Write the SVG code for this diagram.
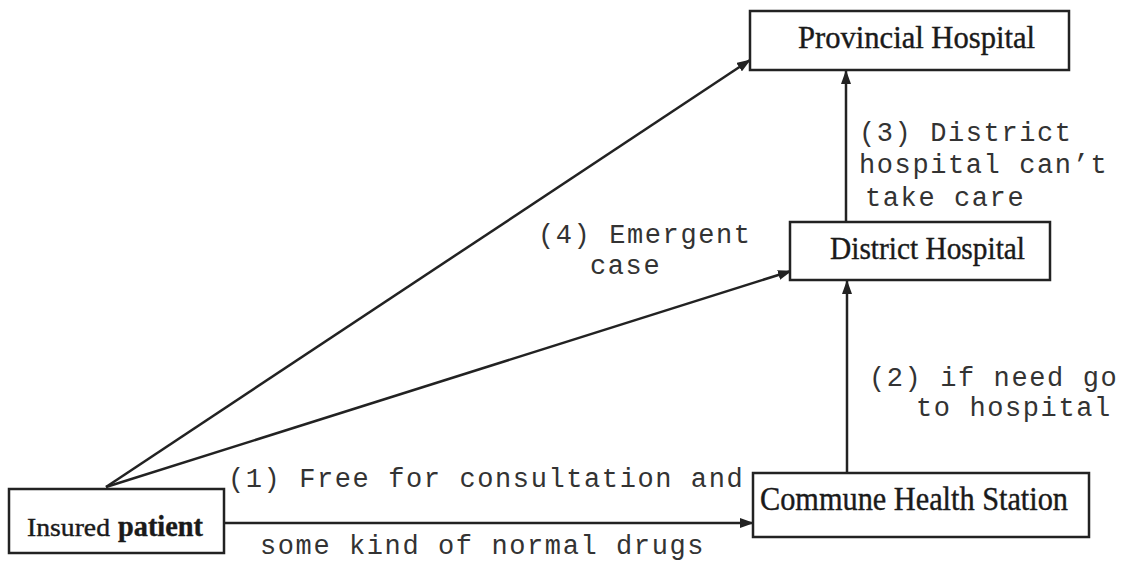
<svg xmlns="http://www.w3.org/2000/svg" width="1131" height="562" viewBox="0 0 1131 562">
<style>
.box{fill:#fff;stroke:#222;stroke-width:2.5}
.lbl{font-family:"Liberation Serif","Times New Roman",serif;fill:#1a1a1a;stroke:#1a1a1a;stroke-width:0.4}
.mono{font-family:"Liberation Mono","Courier New",monospace;font-size:27px;letter-spacing:1.6px;fill:#333}
.conn{stroke:#222;stroke-width:2.5;fill:none}
</style>
<defs>
<marker id="ah" markerUnits="userSpaceOnUse" markerWidth="14" markerHeight="10" refX="13" refY="5" orient="auto">
<path d="M0,0 L14,5 L0,10 z" fill="#222"/>
</marker>
</defs>
<rect width="1131" height="562" fill="#fff"/>
<g id="connectors">
<line class="conn" x1="106" y1="487" x2="750" y2="60" marker-end="url(#ah)"/>
<line class="conn" x1="106" y1="487" x2="791" y2="271" marker-end="url(#ah)"/>
<line class="conn" x1="224" y1="523" x2="753" y2="523" marker-end="url(#ah)"/>
<line class="conn" x1="847" y1="473" x2="847" y2="281" marker-end="url(#ah)"/>
<line class="conn" x1="846" y1="222" x2="846" y2="71" marker-end="url(#ah)"/>
</g>
<g id="provincial">
<rect class="box" x="750" y="11" width="319" height="59"/>
<text class="lbl" x="798" y="48" font-size="32" textLength="237" lengthAdjust="spacingAndGlyphs">Provincial  Hospital</text>
</g>
<g id="district">
<rect class="box" x="790" y="222" width="260" height="58"/>
<text class="lbl" x="830" y="259" font-size="32" textLength="195" lengthAdjust="spacingAndGlyphs">District Hospital</text>
</g>
<g id="commune">
<rect class="box" x="753" y="473" width="336" height="64"/>
<text class="lbl" x="760" y="510" font-size="33" textLength="308" lengthAdjust="spacingAndGlyphs">Commune Health Station</text>
</g>
<g id="insured">
<rect class="box" x="9" y="489" width="215" height="64"/>
<text class="lbl" x="27" y="536" font-size="25" textLength="83" lengthAdjust="spacingAndGlyphs">Insured</text>
<text class="lbl" x="118" y="536" font-size="29" font-weight="bold" textLength="85" lengthAdjust="spacingAndGlyphs">patient</text>
</g>
<g id="labels">
<text class="mono" x="228" y="487">(1) Free for consultation and</text>
<text class="mono" x="260" y="554">some kind of normal drugs</text>
<text class="mono" x="538" y="243">(4) Emergent</text>
<text class="mono" x="590" y="274">case</text>
<text class="mono" x="859" y="141">(3) District</text>
<text class="mono" x="859" y="173">hospital can’t</text>
<text class="mono" x="865" y="206">take care</text>
<text class="mono" x="869" y="386">(2) if need go</text>
<text class="mono" x="916" y="416">to hospital</text>
</g>
</svg>
